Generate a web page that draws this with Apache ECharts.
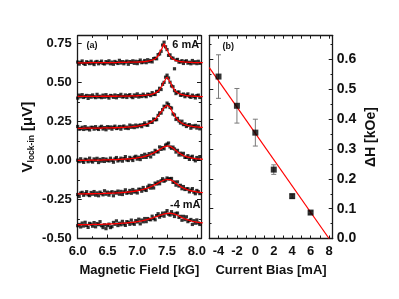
<!DOCTYPE html>
<html><head><meta charset="utf-8">
<script src="https://cdn.jsdelivr.net/npm/echarts@6/dist/echarts.min.js"></script>
<style>html,body{margin:0;padding:0;background:#fff;}#c{width:399px;height:299px;}</style>
</head><body><div id="c"></div>
<script>
// ---- Panel (a): lock-in voltage vs magnetic field ----
const dotX = [6.000,6.025,6.050,6.075,6.100,6.125,6.150,6.175,6.200,6.225,6.250,6.275,6.300,6.325,6.350,6.375,6.400,6.425,6.450,6.475,6.500,6.525,6.550,6.575,6.600,6.625,6.650,6.675,6.700,6.725,6.750,6.775,6.800,6.825,6.850,6.875,6.900,6.925,6.950,6.975,7.000,7.025,7.050,7.075,7.100,7.125,7.150,7.175,7.200,7.225,7.250,7.275,7.300,7.325,7.350,7.375,7.400,7.425,7.450,7.475,7.500,7.525,7.550,7.575,7.600,7.625,7.650,7.675,7.700,7.725,7.750,7.775,7.800,7.825,7.850,7.875,7.900,7.925,7.950,7.975,8.000,8.025,8.050,8.075];
const dots6mA = [.631,.618,.629,.638,.622,.616,.633,.628,.621,.636,.624,.615,.631,.635,.620,.628,.637,.622,.619,.634,.626,.639,.620,.631,.617,.635,.628,.622,.642,.625,.634,.620,.631,.637,.617,.634,.629,.639,.623,.636,.621,.634,.644,.627,.631,.641,.627,.646,.634,.641,.632,.653,.656,.652,.679,.683,.700,.740,.758,.729,.711,.674,.677,.657,.656,.588,.644,.648,.631,.632,.640,.622,.635,.639,.624,.630,.620,.641,.625,.633,.621,.636,.623,.629];
const dots4mA = [.400,.419,.408,.422,.404,.411,.417,.398,.415,.406,.420,.409,.403,.424,.407,.412,.403,.419,.406,.422,.409,.400,.417,.414,.405,.420,.402,.416,.412,.424,.407,.409,.420,.404,.416,.422,.409,.403,.420,.412,.427,.407,.417,.410,.425,.415,.409,.425,.423,.416,.435,.424,.423,.443,.443,.463,.455,.488,.501,.534,.547,.529,.502,.478,.473,.448,.429,.438,.439,.418,.420,.426,.409,.419,.427,.410,.405,.419,.411,.401,.416,.419,.404,.411];
const dots2mA = [.218,.201,.204,.213,.199,.217,.203,.208,.196,.213,.212,.201,.217,.205,.199,.213,.219,.202,.211,.197,.217,.208,.215,.201,.213,.220,.205,.208,.218,.201,.216,.221,.207,.214,.205,.227,.213,.222,.211,.227,.216,.223,.228,.217,.230,.241,.228,.226,.247,.247,.244,.266,.261,.262,.289,.305,.304,.326,.348,.344,.368,.359,.340,.336,.298,.292,.263,.270,.253,.240,.252,.230,.235,.218,.226,.230,.207,.222,.216,.225,.208,.220,.203,.215];
const dots0mA = [.002,-.007,.011,-.003,-.012,.008,.004,-.008,.015,-.003,-.010,.010,.001,.014,-.013,.007,-.004,.012,-.006,.009,.001,-.003,.015,.001,-.011,.010,.019,-.003,.004,.015,-.004,.012,.025,.004,.000,.020,.011,.000,.021,.027,.009,.021,.006,.032,.020,.040,.020,.032,.044,.023,.049,.041,.065,.056,.055,.087,.071,.083,.075,.099,.105,.112,.087,.078,.086,.074,.054,.065,.035,.047,.036,.046,.020,.020,.031,.007,.021,.027,.007,-.002,.019,.007,.025,-.002];
const dotsM2mA = [-.218,-.230,-.209,-.204,-.223,-.213,-.200,-.220,-.225,-.205,-.216,-.199,-.222,-.208,-.226,-.203,-.212,-.220,-.194,-.216,-.203,-.222,-.207,-.200,-.226,-.204,-.209,-.196,-.216,-.198,-.218,-.201,-.188,-.210,-.205,-.192,-.210,-.186,-.202,-.195,-.208,-.184,-.185,-.197,-.173,-.187,-.192,-.170,-.159,-.177,-.161,-.176,-.145,-.151,-.137,-.149,-.130,-.117,-.133,-.126,-.112,-.118,-.118,-.115,-.140,-.138,-.158,-.137,-.164,-.159,-.181,-.167,-.186,-.182,-.181,-.201,-.190,-.180,-.203,-.213,-.192,-.200,-.212,-.193];
const dotsM4mA = [-.418,-.410,-.426,-.401,-.420,-.396,-.416,-.429,-.403,-.408,-.421,-.398,-.425,-.404,-.411,-.392,-.418,-.430,-.412,-.437,-.417,-.408,-.430,-.424,-.397,-.409,-.387,-.417,-.402,-.412,-.390,-.407,-.416,-.392,-.396,-.409,-.382,-.402,-.409,-.385,-.394,-.376,-.406,-.382,-.393,-.372,-.392,-.372,-.378,-.380,-.357,-.371,-.380,-.353,-.341,-.363,-.352,-.337,-.357,-.336,-.321,-.344,-.350,-.328,-.343,-.359,-.339,-.337,-.365,-.358,-.383,-.358,-.379,-.361,-.392,-.384,-.378,-.410,-.386,-.402,-.381,-.400,-.410,-.379];

const fitX = [6.00,6.05,6.10,6.15,6.20,6.25,6.30,6.35,6.40,6.45,6.50,6.55,6.60,6.65,6.70,6.75,6.80,6.85,6.90,6.95,7.00,7.05,7.10,7.15,7.20,7.25,7.30,7.35,7.40,7.45,7.50,7.55,7.60,7.65,7.70,7.75,7.80,7.85,7.90,7.95,8.00,8.05,8.10];
const fit6mA = [.626,.626,.626,.626,.627,.627,.627,.627,.627,.628,.628,.628,.628,.628,.629,.629,.629,.630,.630,.630,.631,.632,.633,.635,.638,.643,.652,.670,.709,.747,.709,.669,.650,.641,.636,.633,.631,.630,.629,.628,.628,.627,.627];
const fit4mA = [.411,.411,.411,.411,.411,.411,.411,.411,.412,.412,.412,.412,.412,.412,.413,.413,.413,.413,.414,.414,.415,.416,.417,.419,.421,.425,.432,.444,.467,.506,.535,.504,.465,.441,.429,.422,.418,.415,.413,.412,.411,.410,.409];
const fit2mA = [.206,.206,.207,.207,.207,.208,.208,.208,.208,.209,.209,.209,.210,.210,.211,.212,.213,.214,.216,.218,.220,.223,.227,.232,.240,.250,.264,.285,.311,.338,.354,.342,.306,.274,.253,.239,.230,.224,.220,.217,.215,.213,.212];
const fit0mA = [.001,.001,.001,.001,.002,.002,.002,.003,.003,.004,.004,.005,.005,.006,.007,.008,.009,.010,.012,.014,.017,.020,.024,.029,.036,.044,.053,.065,.076,.087,.093,.091,.079,.063,.048,.037,.028,.022,.017,.014,.011,.009,.008];
const fitM2mA = [-.214,-.214,-.214,-.213,-.213,-.213,-.212,-.212,-.212,-.211,-.210,-.210,-.209,-.208,-.207,-.205,-.204,-.202,-.200,-.197,-.194,-.190,-.185,-.180,-.173,-.164,-.155,-.145,-.134,-.126,-.121,-.123,-.132,-.146,-.160,-.172,-.181,-.188,-.194,-.198,-.201,-.204,-.206];
const fitM4mA = [-.412,-.412,-.411,-.411,-.411,-.410,-.410,-.409,-.409,-.408,-.407,-.407,-.406,-.405,-.404,-.402,-.401,-.399,-.397,-.395,-.392,-.388,-.385,-.380,-.375,-.369,-.362,-.356,-.349,-.343,-.339,-.338,-.341,-.347,-.356,-.366,-.374,-.381,-.387,-.392,-.395,-.398,-.400];

// ---- Panel (b): linewidth vs current bias ----
const currents = [-4, -2, 0, 2, 4, 6];
const deltaH = [0.543, 0.445, 0.355, 0.231, 0.142, 0.087];
const deltaHErr = [0.073, 0.058, 0.045, 0.016, 0.007, 0.005];
const fitI = [-5, 8];
const fitH = [0.573, 0.0];

const labelsA = ['(a)', '6 mA', '-4 mA'];
const labelsB = ['(b)'];

const FONT = '"Liberation Sans", Arial, sans-serif';
const zip = (xs, ys) => xs.map((x, i) => [x, ys[i]]);

const chart = echarts.init(document.getElementById('c'), null, {renderer: 'canvas'});

const frame = {show: true, onZero: false, lineStyle: {color: '#1a1a1a', width: 1.3}};
const tick = {show: true, inside: true, length: 4, lineStyle: {color: '#1a1a1a', width: 1}};
const minor = {show: true, splitNumber: 2, length: 2.2, lineStyle: {color: '#1a1a1a', width: 1}};
const lbl = {fontFamily: FONT, fontWeight: 'bold', fontSize: 13, color: '#111'};
const onGrid = (v, step) => Math.abs(v / step - Math.round(v / step)) < 1e-6;

const traces = [
  [dots6mA, fit6mA], [dots4mA, fit4mA], [dots2mA, fit2mA],
  [dots0mA, fit0mA], [dotsM2mA, fitM2mA], [dotsM4mA, fitM4mA]
];
const series = [];
traces.forEach(([d, f]) => {
  series.push({type: 'scatter', xAxisIndex: 0, yAxisIndex: 0, data: zip(dotX, d),
    symbol: 'rect', symbolSize: 3.2, itemStyle: {color: '#000'}, z: 2, clip: true});
});
traces.forEach(([d, f]) => {
  series.push({type: 'line', xAxisIndex: 0, yAxisIndex: 0, data: zip(fitX, f),
    showSymbol: false, smooth: 0.3, smoothMonotone: 'x',
    lineStyle: {color: '#ff0000', width: 1.3}, z: 3, clip: true});
});
series.push({
  type: 'custom', xAxisIndex: 2, yAxisIndex: 2, z: 2,
  data: currents.map((c, i) => [c, deltaH[i], deltaHErr[i]]),
  renderItem: (params, api) => {
    const x = api.value(0), y = api.value(1), e = api.value(2);
    const t = api.coord([x, y + e]), b = api.coord([x, y - e]);
    const hw = 2.5, st = {stroke: '#7a7a7a', lineWidth: 1};
    return {type: 'group', children: [
      {type: 'line', shape: {x1: t[0], y1: t[1], x2: b[0], y2: b[1]}, style: st},
      {type: 'line', shape: {x1: t[0] - hw, y1: t[1], x2: t[0] + hw, y2: t[1]}, style: st},
      {type: 'line', shape: {x1: b[0] - hw, y1: b[1], x2: b[0] + hw, y2: b[1]}, style: st}
    ]};
  }
});
series.push({type: 'line', xAxisIndex: 2, yAxisIndex: 2, data: zip(fitI, fitH),
  showSymbol: false, lineStyle: {color: '#ff0000', width: 1.2}, z: 3});
series.push({type: 'scatter', xAxisIndex: 2, yAxisIndex: 2, data: zip(currents, deltaH),
  symbol: 'rect', symbolSize: 6, itemStyle: {color: '#000'}, z: 4});

const option = {
  animation: false,
  backgroundColor: '#fff',
  textStyle: {fontFamily: FONT},
  grid: [
    {left: 77.7, top: 35.7, width: 123.3, height: 202.8},
    {left: 209.3, top: 35.7, width: 123.4, height: 202.8}
  ],
  xAxis: [
    {type: 'value', gridIndex: 0, position: 'bottom', min: 6, max: 8.07, interval: 0.5,
      axisLine: frame, axisTick: tick, minorTick: minor, splitLine: {show: false},
      axisLabel: Object.assign({margin: 6, formatter: v => onGrid(v, 0.5) ? v.toFixed(1) : ''}, lbl),
      name: 'Magnetic Field [kG]', nameLocation: 'middle', nameGap: 25,
      nameTextStyle: {fontFamily: FONT, fontWeight: 'bold', fontSize: 13, color: '#111'}},
    {type: 'value', gridIndex: 0, position: 'top', min: 6, max: 8.07, interval: 0.5,
      axisLine: frame, axisTick: tick, minorTick: minor, splitLine: {show: false}, axisLabel: {show: false}},
    {type: 'value', gridIndex: 1, position: 'bottom', min: -5, max: 8.4, interval: 1,
      axisLine: frame, axisTick: Object.assign({}, tick, {length: 3}), splitLine: {show: false},
      axisLabel: Object.assign({margin: 6, formatter: v => (onGrid(v, 2) ? String(Math.round(v)) : '')}, lbl),
      name: 'Current Bias [mA]', nameLocation: 'middle', nameGap: 25,
      nameTextStyle: {fontFamily: FONT, fontWeight: 'bold', fontSize: 13, color: '#111'}},
    {type: 'value', gridIndex: 1, position: 'top', min: -5, max: 8.4, interval: 1,
      axisLine: frame, axisTick: Object.assign({}, tick, {length: 3}), splitLine: {show: false}, axisLabel: {show: false}}
  ],
  yAxis: [
    {type: 'value', gridIndex: 0, position: 'left', min: -0.5, max: 0.8, interval: 0.25,
      axisLine: frame, axisTick: tick, minorTick: minor, splitLine: {show: false},
      axisLabel: Object.assign({margin: 6, formatter: v => onGrid(v, 0.25) ? v.toFixed(2) : ''}, lbl),
      name: '{v|V}{s|lock-in}{v| [μV]}', nameLocation: 'middle', nameGap: 42, nameRotate: 90,
      nameTextStyle: {rich: {
        v: {fontFamily: FONT, fontWeight: 'bold', fontSize: 15, color: '#111'},
        s: {fontFamily: FONT, fontWeight: 'bold', fontSize: 8.5, color: '#111', verticalAlign: 'bottom'}
      }}},
    {type: 'value', gridIndex: 0, position: 'right', min: -0.5, max: 0.8, interval: 0.25,
      axisLine: frame, axisTick: tick, minorTick: minor, splitLine: {show: false}, axisLabel: {show: false}},
    {type: 'value', gridIndex: 1, position: 'right', min: 0, max: 0.68, interval: 0.1,
      axisLine: frame, axisTick: tick, minorTick: minor, splitLine: {show: false},
      axisLabel: Object.assign({margin: 4, formatter: v => onGrid(v, 0.1) ? v.toFixed(1) : ''}, lbl, {fontSize: 14}),
      name: 'ΔH [kOe]', nameLocation: 'middle', nameGap: 31, nameRotate: 90,
      nameTextStyle: {fontFamily: FONT, fontWeight: 'bold', fontSize: 14, color: '#111'}},
    {type: 'value', gridIndex: 1, position: 'left', min: 0, max: 0.68, interval: 0.1,
      axisLine: frame, axisTick: tick, minorTick: minor, splitLine: {show: false}, axisLabel: {show: false}}
  ],
  graphic: [
    {type: 'text', left: 86.5, top: 41.5, z: 10, style: {text: labelsA[0], font: 'bold 9px ' + FONT, fill: '#111'}},
    {type: 'text', left: 172.3, top: 39.5, z: 10, style: {text: labelsA[1], font: 'bold 11px ' + FONT, fill: '#111'}},
    {type: 'text', left: 170, top: 199.5, z: 10, style: {text: labelsA[2], font: 'bold 11px ' + FONT, fill: '#111'}},
    {type: 'text', left: 222.5, top: 42, z: 10, style: {text: labelsB[0], font: 'bold 9px ' + FONT, fill: '#111'}}
  ],
  series: series
};
chart.setOption(option);
</script>
</body></html>
